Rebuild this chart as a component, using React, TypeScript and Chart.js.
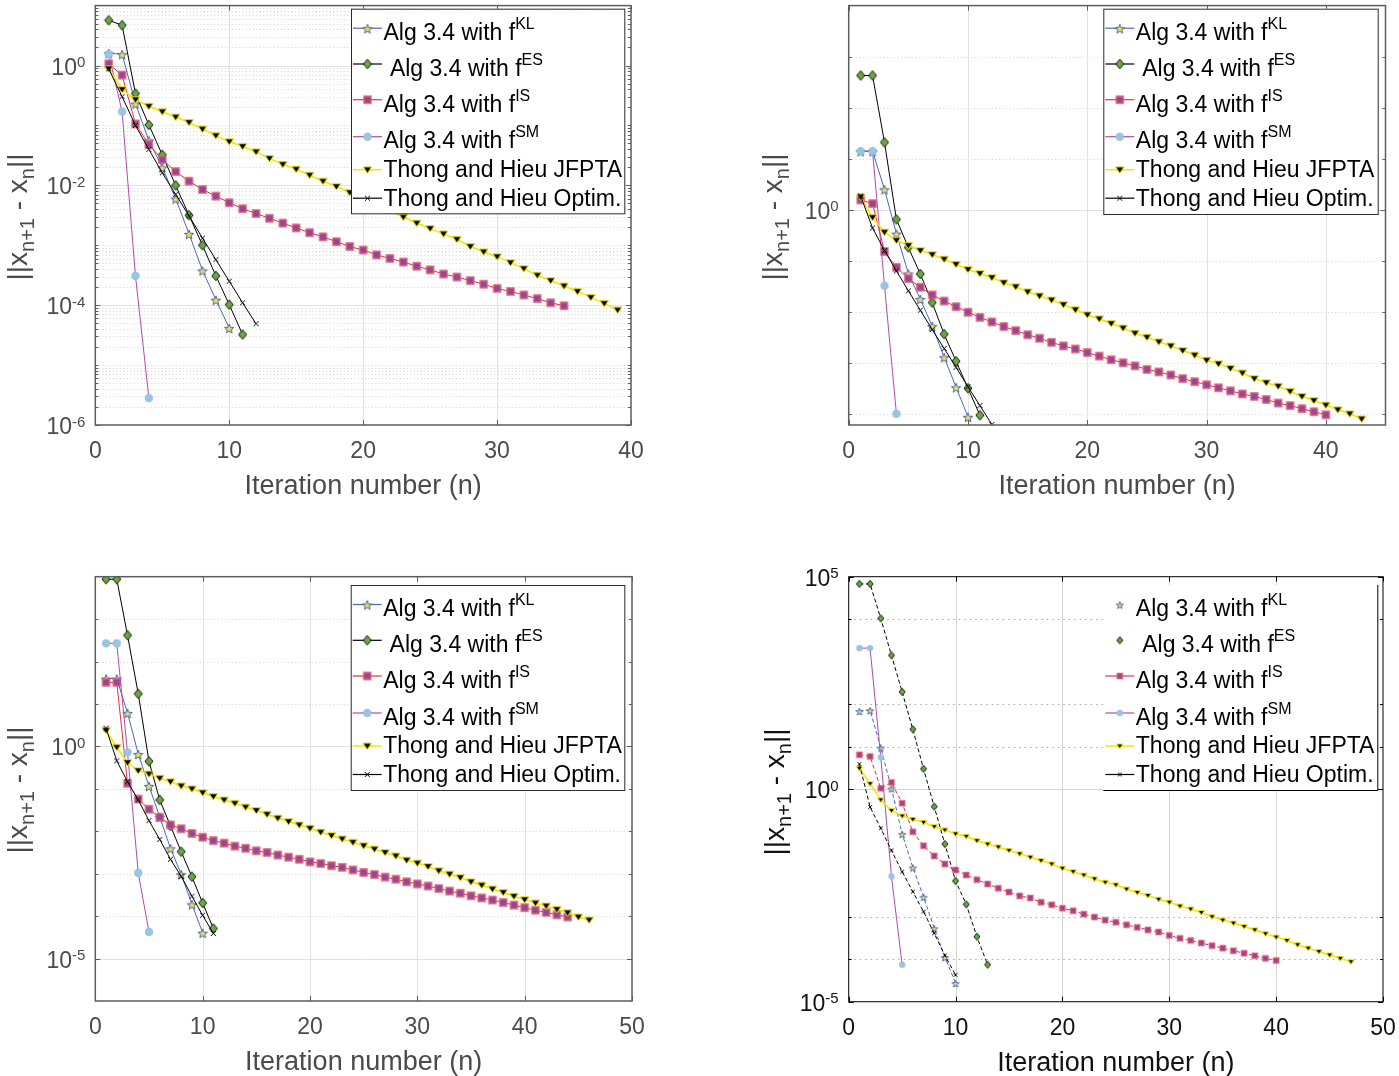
import React, { useEffect, useRef } from "react";
import { Chart, registerables } from "chart.js";

Chart.register(...registerables);

const FONT = '"Liberation Sans", Arial, Helvetica, sans-serif';

// Iterations start at n = 1. Each value is log10(||x_{n+1} - x_n||).
// Panel 1 (top left)
const P1_KL = [0.205, 0.19, -0.635, -1.25, -1.7, -2.22, -2.81, -3.42, -3.91, -4.38];
const P1_ES = [0.755, 0.673, -0.468, -0.99, -1.49, -2.0, -2.5, -3.0, -3.51, -3.99, -4.49];
const P1_IS = [0.028, -0.16, -0.975, -1.32, -1.57, -1.77, -1.93, -2.07, -2.18, -2.29, -2.39, -2.47, -2.55, -2.63, -2.71, -2.79, -2.86, -2.94, -3.02, -3.08, -3.16, -3.22, -3.28, -3.35, -3.41, -3.48, -3.53, -3.59, -3.65, -3.72, -3.77, -3.83, -3.89, -3.96, -4.01];
const P1_SM = [0.19, -0.77, -3.51, -5.55];
const P1_JF = [-0.055, -0.4, -0.57, -0.68, -0.77, -0.86, -0.95, -1.06, -1.17, -1.27, -1.35, -1.44, -1.55, -1.65, -1.73, -1.83, -1.93, -2.02, -2.12, -2.22, -2.32, -2.42, -2.53, -2.63, -2.72, -2.81, -2.9, -3.02, -3.11, -3.19, -3.29, -3.39, -3.5, -3.59, -3.68, -3.77, -3.87, -3.97, -4.08];
const P1_OP = [-0.055, -0.52, -1.0, -1.4, -1.79, -2.15, -2.51, -2.88, -3.24, -3.6, -3.96, -4.31];

// Panel 2 (top right)
const P2_KL = [1.146, 1.146, 0.4, -0.47, -1.25, -1.75, -2.28, -2.89, -3.48, -4.06];
const P2_ES = [2.63, 2.63, 1.32, -0.19, -0.74, -1.26, -1.82, -2.44, -2.97, -3.5, -4.03];
const P2_IS = [0.19, 0.12, -0.82, -1.13, -1.35, -1.52, -1.67, -1.79, -1.9, -2.01, -2.11, -2.2, -2.29, -2.37, -2.45, -2.52, -2.6, -2.67, -2.73, -2.8, -2.87, -2.94, -3.0, -3.06, -3.13, -3.18, -3.24, -3.31, -3.37, -3.43, -3.49, -3.55, -3.61, -3.66, -3.72, -3.79, -3.84, -3.9, -3.96, -4.02];
const P2_SM = [1.146, 1.146, -1.49, -4.0];
const P2_JF = [0.25, -0.15, -0.44, -0.6, -0.7, -0.8, -0.88, -0.97, -1.07, -1.17, -1.25, -1.33, -1.43, -1.51, -1.61, -1.69, -1.77, -1.86, -1.96, -2.06, -2.14, -2.23, -2.32, -2.42, -2.5, -2.59, -2.67, -2.76, -2.85, -2.95, -3.02, -3.11, -3.2, -3.31, -3.39, -3.46, -3.56, -3.66, -3.74, -3.83, -3.92, -4.0, -4.1];
const P2_OP = [0.27, -0.36, -0.8, -1.2, -1.59, -1.97, -2.35, -2.72, -3.09, -3.47, -3.84, -4.21];

// Panel 3 (bottom left)
const P3_KL = [1.6, 1.6, 0.79, -0.18, -0.93, -1.66, -2.4, -3.01, -3.72, -4.39];
const P3_ES = [3.94, 3.94, 2.62, 1.24, -0.35, -1.26, -1.87, -2.48, -3.07, -3.69, -4.29];
const P3_IS = [1.51, 1.51, -0.87, -1.24, -1.48, -1.67, -1.85, -1.94, -2.05, -2.14, -2.22, -2.28, -2.35, -2.4, -2.46, -2.5, -2.56, -2.61, -2.66, -2.72, -2.76, -2.81, -2.85, -2.91, -2.97, -3.02, -3.08, -3.13, -3.19, -3.24, -3.29, -3.35, -3.41, -3.46, -3.52, -3.57, -3.62, -3.68, -3.74, -3.8, -3.86, -3.91, -3.97, -4.02];
const P3_SM = [2.43, 2.43, -0.14, -2.98, -4.37];
const P3_JF = [0.38, -0.02, -0.38, -0.57, -0.65, -0.75, -0.83, -0.93, -1.0, -1.09, -1.18, -1.26, -1.34, -1.43, -1.51, -1.6, -1.69, -1.77, -1.85, -1.93, -2.02, -2.1, -2.18, -2.26, -2.34, -2.42, -2.5, -2.58, -2.68, -2.75, -2.83, -2.93, -3.01, -3.09, -3.19, -3.27, -3.36, -3.44, -3.53, -3.61, -3.69, -3.76, -3.84, -3.92, -4.02, -4.09];
const P3_OP = [0.43, -0.34, -0.83, -1.26, -1.75, -2.19, -2.66, -3.06, -3.53, -3.98, -4.41];

// Panel 4 (bottom right)
const P4_KL = [1.84, 1.86, 0.98, 0.02, -1.05, -1.84, -2.53, -3.27, -3.95, -4.56];
const P4_ES = [4.83, 4.83, 4.02, 3.15, 2.29, 1.41, 0.48, -0.41, -1.29, -2.16, -2.71, -3.47, -4.13];
const P4_IS = [0.81, 0.77, 0.02, 0.16, -0.33, -1.0, -1.33, -1.57, -1.76, -1.9, -2.02, -2.13, -2.23, -2.33, -2.42, -2.51, -2.56, -2.66, -2.72, -2.8, -2.86, -2.94, -3.01, -3.08, -3.13, -3.19, -3.25, -3.31, -3.36, -3.44, -3.51, -3.56, -3.62, -3.68, -3.74, -3.8, -3.86, -3.92, -3.98, -4.03];
const P4_SM = [3.32, 3.32, 0.75, -2.05, -4.13];
const P4_JF = [0.49, 0.13, -0.25, -0.5, -0.63, -0.71, -0.78, -0.88, -0.96, -1.05, -1.11, -1.21, -1.29, -1.36, -1.44, -1.52, -1.6, -1.68, -1.76, -1.86, -1.94, -2.02, -2.11, -2.19, -2.25, -2.35, -2.43, -2.5, -2.59, -2.66, -2.75, -2.82, -2.9, -3.0, -3.08, -3.15, -3.23, -3.31, -3.4, -3.48, -3.56, -3.66, -3.74, -3.82, -3.9, -3.98, -4.06];
const P4_OP = [0.59, -0.42, -0.92, -1.44, -1.94, -2.41, -2.88, -3.39, -3.91, -4.37];

const SERIES_NAMES = ["KL", "ES", "IS", "SM", "JFPTA", "Optim"];
const LEGEND_TEXT = ["Alg 3.4 with f", " Alg 3.4 with f", "Alg 3.4 with f", "Alg 3.4 with f", "Thong and Hieu JFPTA", "Thong and Hieu Optim."];
const LEGEND_SUP = ["KL", "ES", "IS", "SM", "", ""];
const X_TICKS_40 = [0, 10, 20, 30, 40];
const X_TICKS_50 = [0, 10, 20, 30, 40, 50];
const X_TITLE = "Iteration number (n)";

type Kind = "star" | "diamond" | "square" | "circle" | "tri" | "x";
const STYLE: { line: string; kind: Kind; fill: string; stroke: string; size: number; lw: number }[] = [
  { line: "#4a68b8", kind: "star", fill: "#ece03c", stroke: "#4a66c4", size: 10, lw: 1 },
  { line: "#000000", kind: "diamond", fill: "#68a83c", stroke: "#111111", size: 9.5, lw: 1 },
  { line: "#e8303c", kind: "square", fill: "#8e4a98", stroke: "#e4586c", size: 7, lw: 1.3 },
  { line: "#b04aa8", kind: "circle", fill: "#8ccbe0", stroke: "#aab4e0", size: 7.5, lw: 1 },
  { line: "#f2e40c", kind: "tri", fill: "#000000", stroke: "#f2e40c", size: 8.5, lw: 1 },
  { line: "#000000", kind: "x", fill: "#000000", stroke: "#000000", size: 5, lw: 1 },
];
const DASHED_P4 = [true, true, true, false, false, true];

const LEG_LINE_DY = [19.5, 55.3, 91, 128, 161, 189.5];
const LEG_BASE_DY = [31.3, 67.3, 103, 139.7, 168, 197.3];

function makeMarker(kind: Kind, size: number, fill: string, stroke: string, lw: number): HTMLCanvasElement {
  const d = Math.ceil(size + 4);
  const c = document.createElement("canvas");
  c.width = d;
  c.height = d;
  const g = c.getContext("2d")!;
  const cx = d / 2, cy = d / 2, r = size / 2;
  g.lineWidth = lw;
  g.strokeStyle = stroke;
  g.fillStyle = fill;
  g.beginPath();
  if (kind === "star") {
    for (let i = 0; i < 10; i++) {
      const ang = -Math.PI / 2 + (i * Math.PI) / 5;
      const rr = i % 2 ? r * 0.42 : r;
      const px = cx + rr * Math.cos(ang), py = cy + 1 + rr * Math.sin(ang);
      if (i === 0) g.moveTo(px, py);
      else g.lineTo(px, py);
    }
    g.closePath();
  } else if (kind === "diamond") {
    g.moveTo(cx, cy - r);
    g.lineTo(cx + r * 0.85, cy);
    g.lineTo(cx, cy + r);
    g.lineTo(cx - r * 0.85, cy);
    g.closePath();
  } else if (kind === "square") {
    g.rect(cx - r, cy - r, 2 * r, 2 * r);
  } else if (kind === "circle") {
    g.arc(cx, cy, r, 0, Math.PI * 2);
  } else if (kind === "tri") {
    g.moveTo(cx - r, cy - r * 0.65);
    g.lineTo(cx + r, cy - r * 0.65);
    g.lineTo(cx, cy + r * 0.85);
    g.closePath();
  } else {
    g.moveTo(cx - r, cy - r);
    g.lineTo(cx + r, cy + r);
    g.moveTo(cx + r, cy - r);
    g.lineTo(cx - r, cy + r);
  }
  if (kind !== "x") g.fill();
  g.stroke();
  return c;
}

type PanelCfg = {
  box: { left: number; top: number; w: number; h: number };
  area: { l: number; t: number; r: number; b: number };
  xMax: number;
  xTicks: number[];
  yMinExp: number;
  yMaxExp: number;
  yMajorExp: number[];
  yMinorVals: number[];
  yTitle: { x: number; y: number };
  xTitleBase: number;
  legend: { l: number; t: number; r: number; b: number; full: boolean };
  series: number[][];
  small: boolean;
  textColor: string;
  frameColor: string;
  frameWidth: number;
  majorGrid: string;
  minorGrid: string;
  minorDash: number[];
};

function decadeMinors(from: number, to: number, majors: number[], withSub: boolean): number[] {
  const out: number[] = [];
  for (let e = from; e <= to; e++) {
    if (!majors.includes(e)) out.push(Math.pow(10, e));
    if (withSub) for (let k = 2; k <= 9; k++) out.push(k * Math.pow(10, e));
  }
  return out;
}

function hline(ctx: CanvasRenderingContext2D, x1: number, y1: number, x2: number, y2: number) {
  ctx.beginPath();
  ctx.moveTo(x1, y1);
  ctx.lineTo(x2, y2);
  ctx.stroke();
}

function powLabel(ctx: CanvasRenderingContext2D, exp: number, xRight: number, yMid: number) {
  const main = "10", sup = String(exp);
  ctx.font = `23px ${FONT}`;
  const w1 = ctx.measureText(main).width;
  ctx.font = `15px ${FONT}`;
  const w2 = ctx.measureText(sup).width;
  const x0 = xRight - w1 - w2;
  const base = yMid + 9;
  ctx.font = `23px ${FONT}`;
  ctx.fillText(main, x0, base);
  ctx.font = `15px ${FONT}`;
  ctx.fillText(sup, x0 + w1, base - 7.5);
}

function yTitle(ctx: CanvasRenderingContext2D, x: number, y: number) {
  const parts = [
    { t: "||x", f: 28, dy: 0 },
    { t: "n+1", f: 20, dy: 7 },
    { t: " - x", f: 28, dy: 0 },
    { t: "n", f: 20, dy: 7 },
    { t: "||", f: 28, dy: 0 },
  ];
  ctx.save();
  ctx.translate(x, y);
  ctx.rotate(-Math.PI / 2);
  let total = 0;
  for (const p of parts) {
    ctx.font = `${p.f}px ${FONT}`;
    total += ctx.measureText(p.t).width;
  }
  let cx = -total / 2;
  ctx.textBaseline = "alphabetic";
  ctx.textAlign = "left";
  for (const p of parts) {
    ctx.font = `${p.f}px ${FONT}`;
    ctx.fillText(p.t, cx, p.dy);
    cx += ctx.measureText(p.t).width;
  }
  ctx.restore();
}

function makePlugin(cfg: PanelCfg, markers: HTMLCanvasElement[]) {
  return {
    id: "decor",
    beforeDatasetsDraw(chart: any) {
      const ctx: CanvasRenderingContext2D = chart.ctx;
      const a = chart.chartArea;
      const xs = chart.scales.x, ys = chart.scales.y;
      ctx.save();
      ctx.lineWidth = 1;
      ctx.setLineDash(cfg.minorDash);
      ctx.strokeStyle = cfg.minorGrid;
      for (const v of cfg.yMinorVals) {
        const y = Math.round(ys.getPixelForValue(v)) + 0.5;
        if (y > a.top + 1 && y < a.bottom - 1) hline(ctx, a.left, y, a.right, y);
      }
      ctx.setLineDash([]);
      ctx.strokeStyle = cfg.majorGrid;
      for (const e of cfg.yMajorExp) {
        const y = Math.round(ys.getPixelForValue(Math.pow(10, e))) + 0.5;
        if (y > a.top + 1 && y < a.bottom - 1) hline(ctx, a.left, y, a.right, y);
      }
      for (const t of cfg.xTicks) {
        const x = Math.round(xs.getPixelForValue(t)) + 0.5;
        if (x > a.left + 1 && x < a.right - 1) hline(ctx, x, a.top, x, a.bottom);
      }
      ctx.restore();
    },
    afterDatasetsDraw(chart: any) {
      const ctx: CanvasRenderingContext2D = chart.ctx;
      const a = chart.chartArea;
      const xs = chart.scales.x, ys = chart.scales.y;
      ctx.save();
      // frame
      ctx.strokeStyle = cfg.frameColor;
      ctx.lineWidth = cfg.frameWidth;
      ctx.strokeRect(a.left, a.top, a.right - a.left, a.bottom - a.top);
      // ticks
      ctx.lineWidth = 1;
      for (const t of cfg.xTicks) {
        const x = Math.round(xs.getPixelForValue(t)) + 0.5;
        hline(ctx, x, a.bottom, x, a.bottom - 5);
        hline(ctx, x, a.top, x, a.top + 5);
      }
      for (const e of cfg.yMajorExp) {
        const y = Math.round(ys.getPixelForValue(Math.pow(10, e))) + 0.5;
        hline(ctx, a.left, y, a.left + 5, y);
        hline(ctx, a.right, y, a.right - 5, y);
      }
      for (const v of cfg.yMinorVals) {
        const y = Math.round(ys.getPixelForValue(v)) + 0.5;
        if (y < a.top || y > a.bottom) continue;
        hline(ctx, a.left, y, a.left + 3, y);
        hline(ctx, a.right, y, a.right - 3, y);
      }
      // tick labels
      ctx.fillStyle = cfg.textColor;
      ctx.textBaseline = "alphabetic";
      ctx.textAlign = "left";
      for (const e of cfg.yMajorExp) {
        powLabel(ctx, e, a.left - 10, ys.getPixelForValue(Math.pow(10, e)));
      }
      ctx.font = `23px ${FONT}`;
      ctx.textAlign = "center";
      for (const t of cfg.xTicks) {
        ctx.fillText(String(t), xs.getPixelForValue(t), a.bottom + 33.3);
      }
      // page-coordinate drawings: shift into this canvas
      ctx.translate(-cfg.box.left, -cfg.box.top);
      ctx.font = `27px ${FONT}`;
      ctx.fillText(X_TITLE, (cfg.area.l + cfg.area.r) / 2, cfg.xTitleBase);
      ctx.textAlign = "left";
      yTitle(ctx, cfg.yTitle.x, cfg.yTitle.y);
      // legend
      const L = cfg.legend;
      ctx.fillStyle = "#ffffff";
      ctx.fillRect(L.l, L.t, L.r - L.l, L.b - L.t);
      ctx.lineWidth = 1;
      ctx.strokeStyle = cfg.small ? "#000000" : "#2a2a2a";
      if (L.full) {
        ctx.strokeRect(L.l + 0.5, L.t + 0.5, L.r - L.l, L.b - L.t);
      } else {
        hline(ctx, L.r + 0.5, L.t, L.r + 0.5, L.b + 0.5);
        hline(ctx, L.l, L.b + 0.5, L.r + 0.5, L.b + 0.5);
      }
      for (let i = 0; i < 6; i++) {
        const ly = L.t + LEG_LINE_DY[i];
        if (!(cfg.small && i < 2)) {
          ctx.strokeStyle = STYLE[i].line;
          ctx.lineWidth = i === 4 ? 1.5 : 1.2;
          hline(ctx, L.l + 2, ly, L.l + 31, ly);
        }
        const m = markers[i];
        ctx.drawImage(m, L.l + 16.5 - m.width / 2, ly - m.height / 2);
        ctx.fillStyle = "#000000";
        ctx.font = `23px ${FONT}`;
        const base = L.t + LEG_BASE_DY[i];
        ctx.fillText(LEGEND_TEXT[i], L.l + 32.5, base);
        if (LEGEND_SUP[i]) {
          const w = ctx.measureText(LEGEND_TEXT[i]).width;
          ctx.font = `16px ${FONT}`;
          ctx.fillText(LEGEND_SUP[i], L.l + 32.5 + w, base - 11);
        }
      }
      ctx.restore();
    },
  };
}

const PANELS: PanelCfg[] = [
  {
    box: { left: 0, top: 0, w: 700, h: 540 },
    area: { l: 95.3, t: 1.5, r: 631, b: 425 },
    xMax: 40, xTicks: X_TICKS_40, yMinExp: -6, yMaxExp: 1,
    yMajorExp: [-6, -4, -2, 0], yMinorVals: decadeMinors(-6, 0, [-6, -4, -2, 0], true),
    yTitle: { x: 26.5, y: 217 }, xTitleBase: 494,
    legend: { l: 351, t: 8.7, r: 624.3, b: 213.3, full: true },
    series: [P1_KL, P1_ES, P1_IS, P1_SM, P1_JF, P1_OP],
    small: false, textColor: "#4a4a4a", frameColor: "#5c5c5c", frameWidth: 1.5,
    majorGrid: "#e2e2e2", minorGrid: "#d2d2d2", minorDash: [1, 2.5],
  },
  {
    box: { left: 700, top: 0, w: 699, h: 540 },
    area: { l: 848.7, t: 1, r: 1385.5, b: 425 },
    xMax: 45, xTicks: X_TICKS_40, yMinExp: -4.22, yMaxExp: 4,
    yMajorExp: [0], yMinorVals: decadeMinors(-4, 3, [0], false),
    yTitle: { x: 782, y: 217 }, xTitleBase: 494,
    legend: { l: 1103.3, t: 8.7, r: 1377.7, b: 214, full: true },
    series: [P2_KL, P2_ES, P2_IS, P2_SM, P2_JF, P2_OP],
    small: false, textColor: "#4a4a4a", frameColor: "#5c5c5c", frameWidth: 1.5,
    majorGrid: "#e2e2e2", minorGrid: "#d2d2d2", minorDash: [1, 2.5],
  },
  {
    box: { left: 0, top: 540, w: 700, h: 536 },
    area: { l: 95.3, t: 576.7, r: 632, b: 1001 },
    xMax: 50, xTicks: X_TICKS_50, yMinExp: -6, yMaxExp: 4,
    yMajorExp: [-5, 0], yMinorVals: decadeMinors(-4, 3, [0], false),
    yTitle: { x: 26.5, y: 790 }, xTitleBase: 1070,
    legend: { l: 350.7, t: 585, r: 624.3, b: 790, full: true },
    series: [P3_KL, P3_ES, P3_IS, P3_SM, P3_JF, P3_OP],
    small: false, textColor: "#4a4a4a", frameColor: "#5c5c5c", frameWidth: 1.5,
    majorGrid: "#e2e2e2", minorGrid: "#d2d2d2", minorDash: [1, 2.5],
  },
  {
    box: { left: 700, top: 540, w: 699, h: 536 },
    area: { l: 848.7, t: 576.7, r: 1383, b: 1001.7 },
    xMax: 50, xTicks: X_TICKS_50, yMinExp: -5, yMaxExp: 5,
    yMajorExp: [-5, 0, 5], yMinorVals: [1e4, 1e2, 1e1, 1e-3, 1e-4],
    yTitle: { x: 784, y: 792 }, xTitleBase: 1071,
    legend: { l: 1103.3, t: 585, r: 1377.3, b: 790, full: false },
    series: [P4_KL, P4_ES, P4_IS, P4_SM, P4_JF, P4_OP],
    small: true, textColor: "#111111", frameColor: "#000000", frameWidth: 1,
    majorGrid: "#d6d6d6", minorGrid: "#a8a8a8", minorDash: [1.5, 4],
  },
];

function PanelChart({ cfg }: { cfg: PanelCfg }) {
  const ref = useRef<HTMLCanvasElement | null>(null);
  useEffect(() => {
    const canvas = ref.current;
    if (!canvas) return;
    const scale = cfg.small ? 0.75 : 1;
    const markers = STYLE.map((s) => makeMarker(s.kind, s.size * scale, s.fill, s.stroke, s.lw));
    const datasets = cfg.series.map((exps, i) => ({
      label: SERIES_NAMES[i],
      data: exps.map((e, k) => ({ x: k + 1, y: Math.pow(10, e) })),
      borderColor: STYLE[i].line,
      backgroundColor: STYLE[i].line,
      borderWidth: i === 4 ? 1.6 : 1,
      borderDash: cfg.small && DASHED_P4[i] ? [4, 2.5] : [],
      pointStyle: markers[i] as any,
      pointRadius: 4,
      fill: false,
      tension: 0,
      order: 5 - i,
    }));
    const pad = {
      left: cfg.area.l - cfg.box.left,
      top: cfg.area.t - cfg.box.top,
      right: cfg.box.left + cfg.box.w - cfg.area.r,
      bottom: cfg.box.top + cfg.box.h - cfg.area.b,
    };
    const chart = new Chart(canvas, {
      type: "line",
      data: { datasets: datasets as any },
      options: {
        animation: false,
        responsive: false,
        events: [],
        layout: { padding: pad },
        scales: {
          x: { type: "linear", display: false, min: 0, max: cfg.xMax },
          y: { type: "logarithmic", display: false, min: Math.pow(10, cfg.yMinExp), max: Math.pow(10, cfg.yMaxExp) },
        },
        plugins: { legend: { display: false }, tooltip: { enabled: false } },
      },
      plugins: [makePlugin(cfg, markers) as any],
    });
    return () => chart.destroy();
  }, [cfg]);
  return (
    <canvas
      ref={ref}
      width={cfg.box.w}
      height={cfg.box.h}
      style={{ position: "absolute", left: cfg.box.left, top: cfg.box.top, width: cfg.box.w, height: cfg.box.h }}
    />
  );
}

export default function App() {
  return (
    <div style={{ position: "absolute", left: 0, top: 0, width: 1399, height: 1076, background: "#ffffff", overflow: "hidden" }}>
      {PANELS.map((p, i) => (
        <PanelChart key={i} cfg={p} />
      ))}
    </div>
  );
}
